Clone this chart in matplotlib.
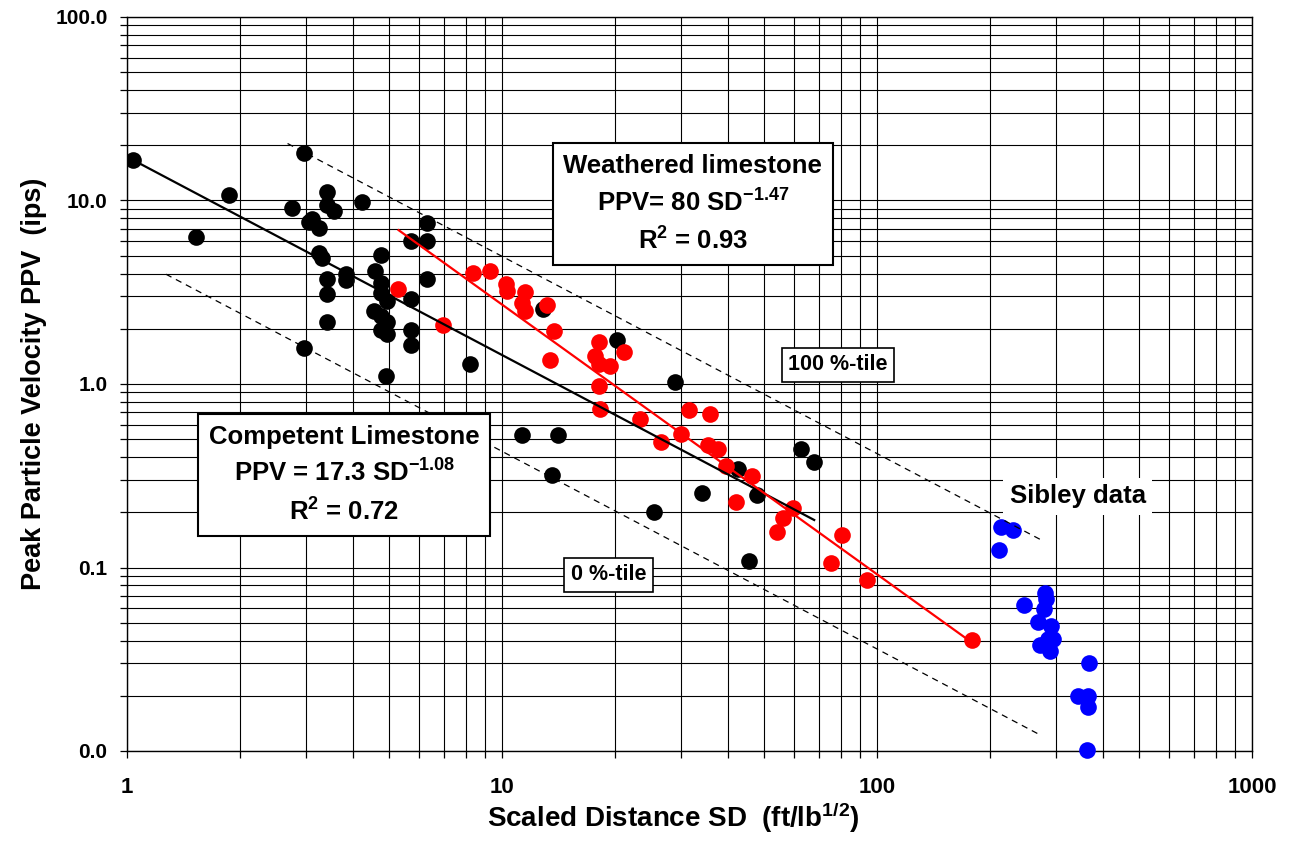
import numpy as np
import matplotlib
matplotlib.use("Agg")
import matplotlib.pyplot as plt
from matplotlib.ticker import FixedLocator, FixedFormatter, LogLocator, NullFormatter

plt.rcParams['font.family'] = ['Liberation Sans', 'DejaVu Sans']
plt.rcParams['font.weight'] = 'bold'
plt.rcParams['mathtext.fontset'] = 'custom'
plt.rcParams['mathtext.rm'] = 'Liberation Sans:bold'
plt.rcParams['mathtext.bf'] = 'Liberation Sans:bold'
plt.rcParams['mathtext.default'] = 'rm'

# competent limestone (black)
black_sd = [1.04, 2.97, 1.87, 1.53, 2.76, 3.42, 3.41, 3.56, 4.24, 3.06, 3.12, 3.25,
            6.31, 5.73, 6.31, 3.25, 3.31, 4.76, 3.83, 3.83, 3.42, 3.42, 3.42, 2.97,
            4.59, 4.77, 4.77, 4.93, 4.56, 4.77, 4.93, 4.77, 4.93, 4.92, 5.73, 5.73,
            5.73, 6.31, 8.22, 12.9, 20.3, 28.9, 11.3, 14.1, 13.6, 34.1, 62.7, 68.1,
            42.7, 47.8, 25.5, 45.7]
black_ppv = [16.6, 18.1, 10.7, 6.3, 9.1, 11.1, 9.4, 8.8, 9.8, 7.6, 7.9, 7.06,
             7.5, 6.0, 6.0, 5.2, 4.84, 5.05, 4.0, 3.7, 3.72, 3.08, 2.19, 1.58,
             4.13, 3.57, 3.15, 2.83, 2.50, 2.35, 2.18, 1.96, 1.87, 1.10, 2.90, 1.96,
             1.63, 3.72, 1.29, 2.55, 1.74, 1.02, 0.526, 0.526, 0.321, 0.255, 0.444, 0.377,
             0.345, 0.247, 0.200, 0.109]

# weathered limestone (red)
red_sd = [5.27, 6.97, 8.35, 9.29, 10.25, 10.3, 11.5, 11.3, 11.5, 13.2, 13.8, 13.4,
          18.1, 17.7, 18.1, 19.4, 21.1, 18.1, 18.3, 23.3, 26.5, 30.0, 31.6, 35.9,
          35.5, 37.7, 39.6, 46.3, 42.2, 59.6, 56.3, 54.0, 80.8, 75.4, 93.9, 179]
red_ppv = [3.31, 2.09, 4.01, 4.13, 3.49, 3.21, 3.17, 2.77, 2.50, 2.68, 1.94, 1.35,
           1.69, 1.42, 1.29, 1.25, 1.49, 0.975, 0.727, 0.647, 0.482, 0.531, 0.721, 0.683,
           0.468, 0.44, 0.356, 0.315, 0.227, 0.211, 0.186, 0.156, 0.151, 0.106, 0.0851, 0.0404]

# Sibley data (blue)
blue_sd = [214, 230, 211, 246, 281, 283, 279, 268, 291, 272, 285, 295, 289, 367,
           344, 366, 366, 362]
blue_ppv = [0.166, 0.160, 0.125, 0.0628, 0.0727, 0.0676, 0.0594, 0.0502, 0.0478,
            0.0379, 0.0407, 0.0406, 0.0349, 0.0301, 0.0200, 0.0200, 0.0173, 0.0101]

# fits: PPV = K * SD^b
competent_fit = (17.3, -1.08, [1.04, 68])
weathered_fit = (80.0, -1.47, [5.3, 179])
upper_env = (59.0, -1.075, [2.68, 272])
lower_env = (5.13, -1.077, [1.27, 272])

x_ticks = [1, 10, 100, 1000]
x_labels = ['1', '10', '100', '1000']
y_ticks = [0.01, 0.1, 1, 10, 100]
y_labels = ['0.0', '0.1', '1.0', '10.0', '100.0']

fig = plt.figure(figsize=(12.9, 8.49), dpi=100)
ax = fig.add_axes([127 / 1290, 98 / 849, 1125 / 1290, 734 / 849])
ax.set_xscale('log')
ax.set_yscale('log')
ax.set_xlim(1, 1000)
ax.set_ylim(0.01, 100)

ax.grid(True, which='both', color='black', lw=0.8, zorder=0)
ax.set_axisbelow(True)

ms = 12
ax.plot(black_sd, black_ppv, 'o', color='black', ms=ms, mec='none', zorder=3)
ax.plot(red_sd, red_ppv, 'o', color='#ff0000', ms=ms, mec='none', zorder=4)
ax.plot(blue_sd, blue_ppv, 'o', color='#0000ff', ms=ms, mec='none', zorder=4, clip_on=False)

def fit_line(k, b, rng):
    xs = np.array(rng)
    return xs, k * xs ** b

xs, ys = fit_line(*competent_fit)
ax.plot(xs, ys, color='black', lw=1.6, zorder=5)
xs, ys = fit_line(*weathered_fit)
ax.plot(xs, ys, color='#ff0000', lw=1.6, zorder=5)
for env in (upper_env, lower_env):
    xs, ys = fit_line(*env)
    ax.plot(xs, ys, color='black', lw=0.9, ls=(0, (5, 4)), zorder=5)

ax.xaxis.set_major_locator(FixedLocator(x_ticks))
ax.xaxis.set_major_formatter(FixedFormatter(x_labels))
ax.xaxis.set_minor_locator(LogLocator(base=10, subs=np.arange(2, 10)))
ax.xaxis.set_minor_formatter(NullFormatter())
ax.yaxis.set_major_locator(FixedLocator(y_ticks))
ax.yaxis.set_major_formatter(FixedFormatter(y_labels))
ax.yaxis.set_minor_locator(LogLocator(base=10, subs=np.arange(2, 10)))
ax.yaxis.set_minor_formatter(NullFormatter())

ax.tick_params(which='both', direction='out', length=5, width=0.9, color='black')
ax.tick_params(axis='x', which='major', pad=14)
ax.tick_params(axis='y', which='major', pad=9)
for lab in ax.get_xticklabels():
    lab.set_fontsize(16)
    lab.set_fontweight('bold')
for lab in ax.get_yticklabels():
    lab.set_fontsize(15)
    lab.set_fontweight('bold')
for sp in ax.spines.values():
    sp.set_color('black')
    sp.set_linewidth(1.0)

ax.set_xlabel('Scaled Distance SD  (ft/lb$^{1/2}$)', fontsize=20, fontweight='bold')
ax.xaxis.set_label_coords(0.486, -0.068)
ax.set_ylabel('Peak Particle Velocity PPV  (ips)', fontsize=19.5, fontweight='bold', labelpad=6)

box = dict(boxstyle='square,pad=0.42', fc='white', ec='black', lw=1.5)
ax.text(0.503, 0.745, 'Weathered limestone\nPPV= 80 SD$^{-1.47}$\nR$^2$ = 0.93',
        transform=ax.transAxes, ha='center', va='center', fontsize=18.5,
        fontweight='bold', linespacing=1.5, bbox=box, zorder=6)
ax.text(0.193, 0.376, 'Competent Limestone\nPPV = 17.3 SD$^{-1.08}$\nR$^2$ = 0.72',
        transform=ax.transAxes, ha='center', va='center', fontsize=18.5,
        fontweight='bold', linespacing=1.5, bbox=box, zorder=6)
small_box = dict(boxstyle='square,pad=0.3', fc='white', ec='black', lw=1.2)
ax.text(0.632, 0.526, '100 %-tile', transform=ax.transAxes, ha='center', va='center',
        fontsize=15.5, fontweight='bold', bbox=small_box, zorder=6)
ax.text(0.428, 0.240, '0 %-tile', transform=ax.transAxes, ha='center', va='center',
        fontsize=15.5, fontweight='bold', bbox=small_box, zorder=6)
ax.text(0.845, 0.347, 'Sibley data', transform=ax.transAxes, ha='center', va='center',
        fontsize=18.5, fontweight='bold',
        bbox=dict(boxstyle='square,pad=0.25', fc='white', ec='none'), zorder=6)

fig.savefig('out.png', dpi=100)
